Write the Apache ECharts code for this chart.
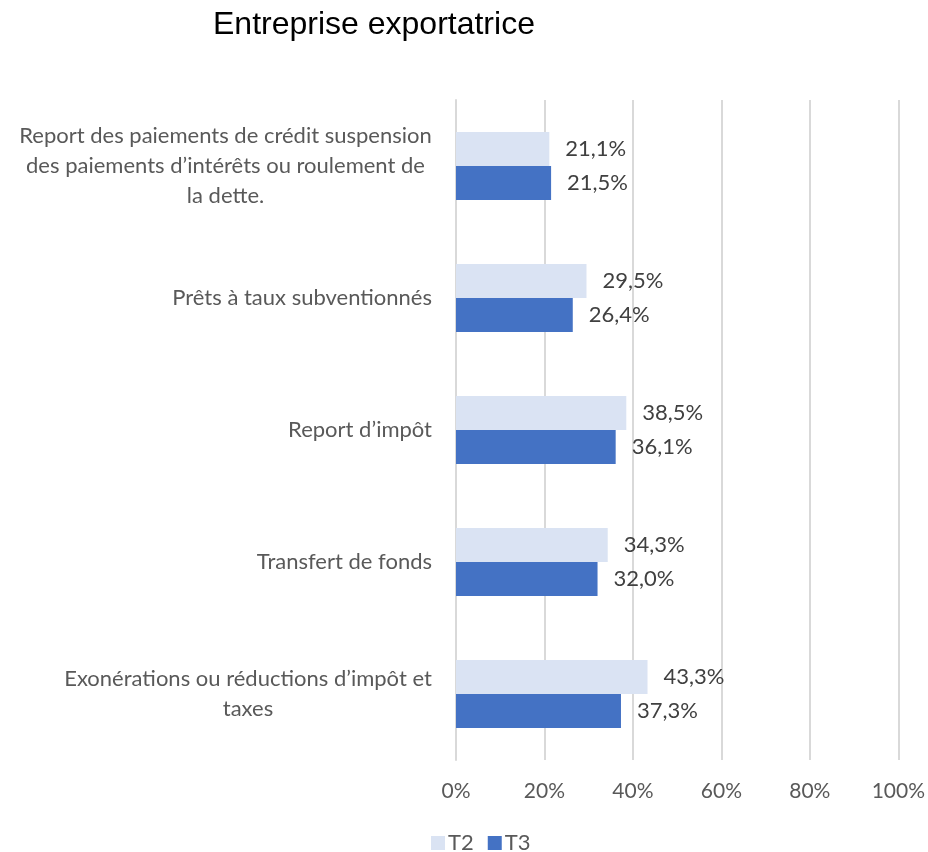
<!DOCTYPE html>
<html>
<head>
<meta charset="utf-8">
<script src="https://cdn.jsdelivr.net/npm/echarts@6/dist/echarts.min.js"></script>
<style>html,body{margin:0;padding:0;background:#fff}#c{width:928px;height:852px}</style>
</head>
<body>
<div id="c"></div>
<script>
const categories = [
  "Report des paiements de crédit suspension\ndes paiements d’intérêts ou roulement de\nla dette.",
  "Prêts à taux subventionnés",
  "Report d’impôt",
  "Transfert de fonds",
  "Exonérations ou réductions d’impôt et\ntaxes"
];
const seriesNames = ["T2", "T3"];
const t2 = [21.1, 29.5, 38.5, 34.3, 43.3];
const t3 = [21.5, 26.4, 36.1, 32.0, 37.3];
const xTicks = [0, 20, 40, 60, 80, 100];

const font = 'Lato';
const chart = echarts.init(document.getElementById('c'), null, {renderer: 'canvas'});
const fmt = v => v.toFixed(1).replace('.', ',') + '%';
// multiline labels: each line centered within a block (as in the reference)
const blockW = {0: 413, 4: 368};
const labelFmt = (val, idx) => {
  const lines = val.split('\n');
  if (lines.length < 2) return val;
  const key = 'w' + idx;
  return lines.map(l => '{' + key + '|' + l + '}').join('\n');
};
const rich = {};
Object.keys(blockW).forEach(k => {
  rich['w' + k] = {width: blockW[k], align: 'center', fontFamily: font, fontSize: 22, color: '#595959', lineHeight: 30};
});
chart.setOption({
  animation: false,
  title: {
    text: 'Entreprise exportatrice',
    left: 208, top: 4,
    textStyle: {fontFamily: 'Liberation Sans', fontSize: 32, fontWeight: 'normal', color: '#000'}
  },
  legend: {
    data: seriesNames,
    bottom: -7, left: 426,
    itemWidth: 14, itemHeight: 14, itemGap: 14,
    icon: 'rect',
    textStyle: {fontFamily: font, fontSize: 22, color: '#595959', padding: [0,0,0,-2]}
  },
  grid: {left: 456, right: 29, top: 100, bottom: 92, containLabel: false},
  xAxis: {
    type: 'value', min: 0, max: 100, interval: 20,
    axisLabel: {formatter: v => xTicks.includes(v) ? v + '%' : '', fontFamily: font, fontSize: 21, color: '#595959', margin: 21},
    splitLine: {lineStyle: {color: '#d9d9d9', width: 2}},
    axisLine: {show: false}, axisTick: {show: false}
  },
  yAxis: {
    type: 'category', inverse: true, data: categories,
    axisLabel: {fontFamily: font, fontSize: 22, color: '#595959', lineHeight: 30, margin: 24,
      formatter: labelFmt, rich: rich},
    axisLine: {show: true, lineStyle: {color: '#d9d9d9', width: 2}},
    axisTick: {show: false}
  },
  series: [
    {name: seriesNames[0], type: 'bar', data: t2, barWidth: 34, barGap: '0%',
     itemStyle: {color: '#DAE3F3'},
     label: {show: true, position: 'right', distance: 16, formatter: p => fmt(p.value), fontFamily: font, fontSize: 22, color: '#404040'}},
    {name: seriesNames[1], type: 'bar', data: t3, barWidth: 34,
     itemStyle: {color: '#4472C4'},
     label: {show: true, position: 'right', distance: 16, formatter: p => fmt(p.value), fontFamily: font, fontSize: 22, color: '#404040'}}
  ]
});
</script>
</body>
</html>
